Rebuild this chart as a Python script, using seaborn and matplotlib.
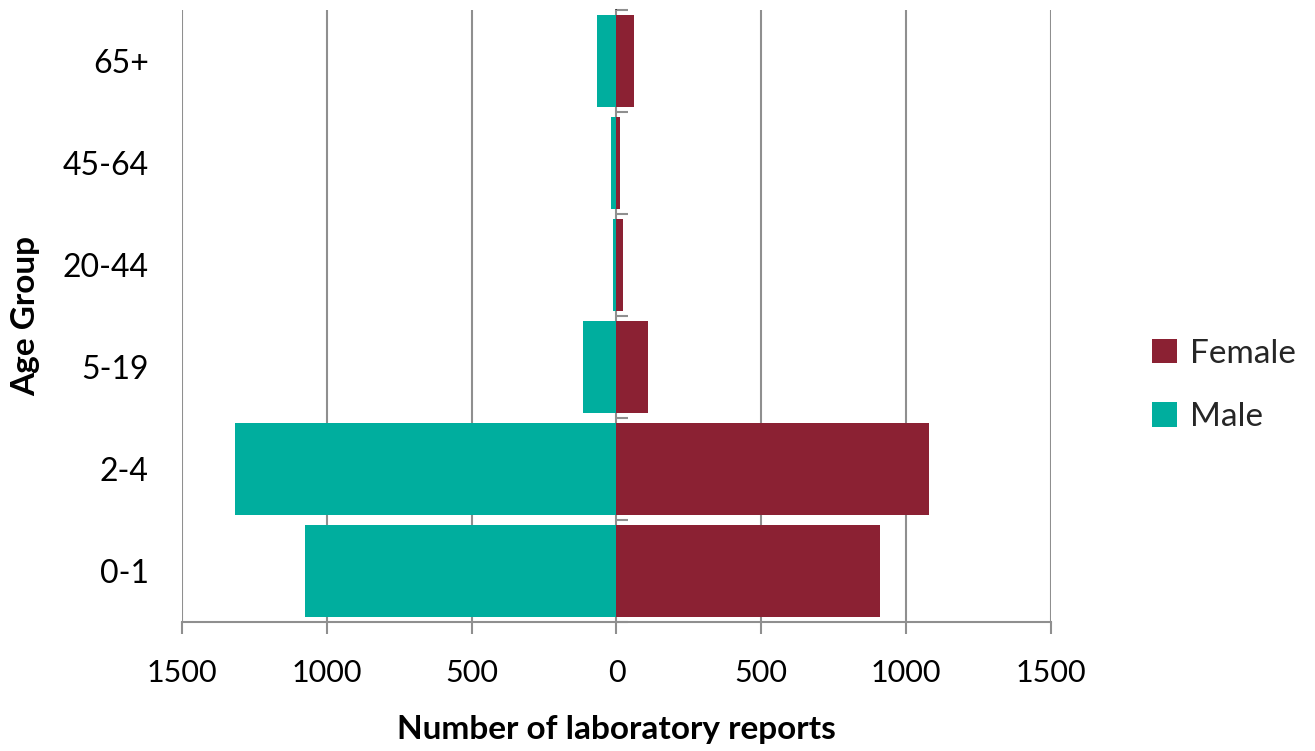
import pandas as pd
import matplotlib
matplotlib.use("Agg")
import matplotlib.pyplot as plt
import seaborn as sns
import numpy as np

ages = ["65+", "45-64", "20-44", "5-19", "2-4", "0-1"]
female = [59, 11, 21, 109, 1079, 910]
male = [66, 18, 13, 114, 1316, 1076]
ticks = [-1500, -1000, -500, 0, 500, 1000, 1500]

sns.set_theme(style="white")
plt.rcParams["font.family"] = ["Lato", "DejaVu Sans"]

df = pd.DataFrame({
    "age": ages * 2,
    "reports": female + [-m for m in male],
    "sex": ["Female"] * len(ages) + ["Male"] * len(ages),
})

grey = "#8f8f8f"
fig = plt.figure(figsize=(13.15, 7.51), dpi=100)
ax = fig.add_axes([0.1384, 0.1718, 0.6608, 0.8149])

sns.barplot(data=df, x="reports", y="age", hue="sex", order=ages,
            hue_order=["Female", "Male"],
            palette={"Female": "#8b2133", "Male": "#00ae9e"},
            saturation=1, dodge=False, width=0.91, orient="h",
            linewidth=0, ax=ax)

ax.set_xlim(-1500, 1500)
ax.set_ylim(5.5, -0.5)
ax.set_xticks(ticks)
ax.set_xticklabels([str(abs(t)) for t in ticks])
ax.set_axisbelow(True)
ax.grid(axis="x", color=grey, linewidth=1.5)
ax.grid(axis="y", visible=False)
for s in ["top", "right", "left"]:
    ax.spines[s].set_visible(False)
ax.spines["bottom"].set_color(grey)
ax.spines["bottom"].set_linewidth(1.5)
ax.tick_params(axis="x", direction="out", length=8.5, width=1.5, color=grey,
               labelsize=22, pad=18, bottom=True)
ax.tick_params(axis="y", length=0, labelsize=23, pad=24)
for lab in ax.get_xticklabels() + ax.get_yticklabels():
    lab.set_color("black")

# category axis at zero with boundary ticks
sec = ax.secondary_yaxis(0.5)
sec.set_yticks(np.arange(-0.5, len(ages), 1.0))
sec.set_yticklabels([])
sec.spines["left"].set_color(grey)
sec.spines["left"].set_linewidth(2)
sec.tick_params(axis="y", direction="out", length=8.5, width=1.5, color=grey)

ax.set_xlabel("Number of laboratory reports", fontsize=24, fontweight="bold",
              labelpad=20, color="black")
ax.set_ylabel("Age Group", fontsize=24, fontweight="bold", labelpad=16,
              color="black")

handles, labels = ax.get_legend_handles_labels()
ax.legend(handles, labels, loc="center left", bbox_to_anchor=(0.876, 0.487),
          bbox_transform=fig.transFigure, frameon=False, fontsize=24,
          handlelength=0.75, handleheight=0.75, handletextpad=0.4,
          labelspacing=1.0, borderpad=0, borderaxespad=0)

fig.savefig("out.png", dpi=100)
